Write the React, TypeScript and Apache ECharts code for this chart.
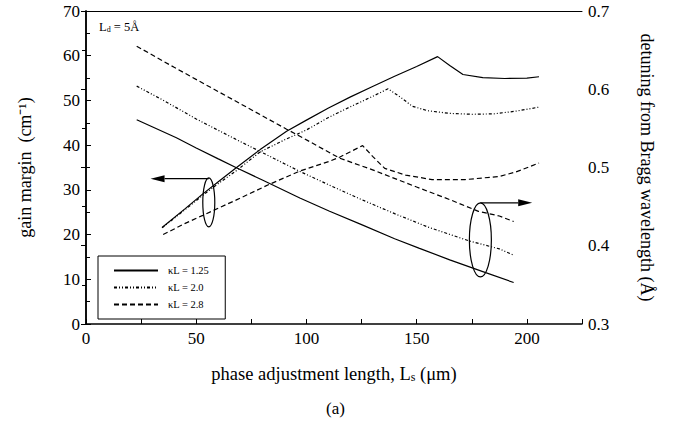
import React, { useEffect, useRef } from "react";
import * as echarts from "echarts";

// gain margin (left axis, cm^-1) vs phase adjustment length (µm)
const gainKL125: [number, number][] = [
  [34.5, 21.6], [45, 25.8], [53, 29.1], [60, 31.8], [68, 34.9], [79, 39.0], [91, 43.1],
  [100, 45.6], [110, 48.3], [120, 50.8], [130, 53.1], [140, 55.4], [150, 57.6], [159.5, 59.8],
  [165, 57.8], [171, 55.8], [180, 55.1], [190, 54.9], [200, 55.0], [205.5, 55.3],
];
const gainKL20: [number, number][] = [
  [34.5, 21.5], [45, 25.6], [53, 28.8], [60, 31.4], [68, 34.2], [79, 38.5], [91, 41.4],
  [100, 43.4], [110, 46.2], [120, 48.6], [130, 50.9], [137, 52.6], [143, 50.6], [148, 48.7],
  [155, 47.7], [165, 47.1], [175, 46.9], [185, 47.0], [195, 47.6], [205.5, 48.5],
];
const gainKL28: [number, number][] = [
  [35, 20.0], [45, 22.5], [53, 24.3], [60, 25.9], [68, 27.7], [83, 31.2], [97, 34.2],
  [110.5, 36.4], [115, 37.3], [125.5, 39.9], [130, 37.5], [135.5, 34.8], [145, 33.3],
  [157, 32.3], [172, 32.3], [187.5, 33.0], [195, 34.0], [205.5, 36.0],
];

// detuning from Bragg wavelength (right axis, Å)
const detKL125: [number, number][] = [
  [23, 0.561], [30, 0.552], [41, 0.538], [50, 0.525], [60, 0.511], [68, 0.5], [80, 0.484],
  [97, 0.461], [110.5, 0.444], [125, 0.427], [140, 0.409], [151, 0.397], [165, 0.382],
  [180, 0.367], [194, 0.353],
];
const detKL20: [number, number][] = [
  [23, 0.604], [35, 0.586], [50, 0.562], [68, 0.536], [80, 0.519], [97, 0.495], [110, 0.478],
  [125, 0.459], [140, 0.441], [155, 0.424], [174, 0.406], [187.5, 0.396], [194, 0.388],
];
const detKL28: [number, number][] = [
  [23, 0.655], [40, 0.628], [60, 0.597], [91, 0.549], [97, 0.54], [115, 0.512], [130, 0.497],
  [150, 0.475], [165, 0.459], [178, 0.444], [187.5, 0.438], [194, 0.431],
];

const legendNames = ["κL = 1.25", "κL = 2.0", "κL = 2.8"];

// annotation anchors in data coordinates (x, left-axis y)
const leftEllipse = [55.7, 27.2];
const leftArrow = [[55.7, 32.5], [29.3, 32.5]];
const rightEllipse = [178.9, 18.8];
const rightArrow = [[178.9, 27.1], [202.4, 27.1]];

const FONT = "Liberation Serif";
const dotStyle = [3, 2, 1, 2, 1, 2];
const dashStyle = [5, 3];

export default function App() {
  const ref = useRef<HTMLDivElement>(null);
  useEffect(() => {
    if (!ref.current) return;
    const chart = echarts.init(ref.current, undefined, { renderer: "svg" });
    const line = (name: string, data: [number, number][], type: any, yAxisIndex: number) => ({
      name,
      type: "line",
      data,
      yAxisIndex,
      symbol: "none",
      smooth: false,
      lineStyle: { color: "#000", width: 1.2, type },
      itemStyle: { color: "#000" },
    });
    chart.setOption({
      animation: false,
      backgroundColor: "#fff",
      textStyle: { fontFamily: FONT },
      grid: { left: 86, right: 92, top: 11, bottom: 101 },
      legend: {
        data: legendNames,
        orient: "vertical",
        left: 98,
        top: 256,
        padding: [9, 16, 9, 15],
        itemWidth: 44,
        itemHeight: 10,
        itemGap: 6,
        borderColor: "#000",
        borderWidth: 1,
        backgroundColor: "#fff",
        itemStyle: { opacity: 0 },
        textStyle: { fontFamily: FONT, fontSize: 10.5, color: "#000", padding: [0, 0, 0, 5] },
      },
      xAxis: [
        {
          type: "value",
          min: 0,
          max: 225,
          interval: 25,
          name: "phase adjustment length, L{s|s} (μm)",
          nameLocation: "middle",
          nameGap: 40,
          nameTextStyle: {
            fontFamily: FONT,
            fontSize: 18.5,
            color: "#000",
            rich: { s: { fontFamily: FONT, fontSize: 12, color: "#000", verticalAlign: "bottom" } },
          },
          axisLine: { lineStyle: { color: "#000", width: 1.5 } },
          axisTick: { inside: true, length: 5, lineStyle: { color: "#000" } },
          axisLabel: {
            fontFamily: FONT,
            fontSize: 17,
            color: "#000",
            margin: 6,
            formatter: (v: number) => (v % 50 === 0 && v <= 200 ? String(v) : ""),
          },
          splitLine: { show: false },
        },
        {
          type: "value",
          position: "top",
          min: 0,
          max: 225,
          axisLine: { show: true, lineStyle: { color: "#000", width: 1 } },
          axisTick: { show: false },
          axisLabel: { show: false },
          splitLine: { show: false },
        },
      ],
      yAxis: [
        {
          type: "value",
          min: 0,
          max: 70,
          interval: 10,
          name: "gain margin  (cm⁻¹)",
          nameLocation: "middle",
          nameRotate: 90,
          nameGap: 52,
          nameTextStyle: { fontFamily: FONT, fontSize: 18, color: "#000" },
          axisLine: { show: true, lineStyle: { color: "#000", width: 1.5 } },
          axisTick: { inside: true, length: 5, lineStyle: { color: "#000" } },
          minorTick: { show: true, splitNumber: 2, length: 4, lineStyle: { color: "#000" } },
          axisLabel: { fontFamily: FONT, fontSize: 17, color: "#000", margin: 6 },
          splitLine: { show: false },
        },
        {
          type: "value",
          position: "right",
          min: 0.3,
          max: 0.7,
          interval: 0.1,
          name: "detuning from Bragg wavelength (Å)",
          nameLocation: "middle",
          nameRotate: -90,
          nameGap: 56,
          nameTextStyle: { fontFamily: FONT, fontSize: 18, color: "#000" },
          axisLine: { show: true, lineStyle: { color: "#000", width: 1.5 } },
          axisTick: { inside: true, length: 5, lineStyle: { color: "#000" } },
          minorTick: { show: true, splitNumber: 2, length: 4, lineStyle: { color: "#000" } },
          axisLabel: {
            fontFamily: FONT,
            fontSize: 17,
            color: "#000",
            margin: 6,
            formatter: (v: number) => v.toFixed(1),
          },
          splitLine: { show: false },
        },
      ],
      series: [
        line(legendNames[0], gainKL125, "solid", 0),
        line(legendNames[1], gainKL20, dotStyle, 0),
        line(legendNames[2], gainKL28, dashStyle, 0),
        line("det " + legendNames[0], detKL125, "solid", 1),
        line("det " + legendNames[1], detKL20, dotStyle, 1),
        line("det " + legendNames[2], detKL28, dashStyle, 1),
      ],
    });

    const px = (p: number[]) => chart.convertToPixel({ xAxisIndex: 0, yAxisIndex: 0 }, p) as number[];
    const arrow = (from: number[], to: number[]) => {
      const a = px(from);
      const b = px(to);
      const dir = Math.sign(b[0] - a[0]);
      const headLen = 14;
      const base = b[0] - dir * headLen;
      return [
        {
          type: "line",
          shape: { x1: a[0], y1: a[1], x2: base, y2: b[1] },
          style: { stroke: "#000", lineWidth: 1.2 },
        },
        {
          type: "polygon",
          shape: { points: [[b[0], b[1]], [base, b[1] - 3.5], [base, b[1] + 3.5]] },
          style: { fill: "#000" },
        },
      ];
    };
    const le = px(leftEllipse);
    const re = px(rightEllipse);
    chart.setOption({
      graphic: [
        {
          type: "ellipse",
          shape: { cx: le[0], cy: le[1], rx: 6, ry: 24.5 },
          style: { fill: "none", stroke: "#000", lineWidth: 1.2 },
        },
        ...arrow(leftArrow[0], leftArrow[1]),
        {
          type: "ellipse",
          shape: { cx: re[0], cy: re[1], rx: 11, ry: 37 },
          style: { fill: "none", stroke: "#000", lineWidth: 1.2 },
        },
        ...arrow(rightArrow[0], rightArrow[1]),
        {
          type: "text",
          left: 99,
          top: 20,
          style: {
            text: "L{d|d} = 5Å",
            fontFamily: FONT,
            fontSize: 12.5,
            fill: "#000",
            rich: { d: { fontFamily: FONT, fontSize: 8, fill: "#000", verticalAlign: "bottom" } },
          },
        },
        {
          type: "text",
          left: 326,
          top: 400,
          style: { text: "(a)", fontFamily: FONT, fontSize: 17, fill: "#000" },
        },
      ],
    });
    return () => chart.dispose();
  }, []);
  return <div ref={ref} style={{ width: 674, height: 425, position: "absolute", left: 0, top: 0 }} />;
}
